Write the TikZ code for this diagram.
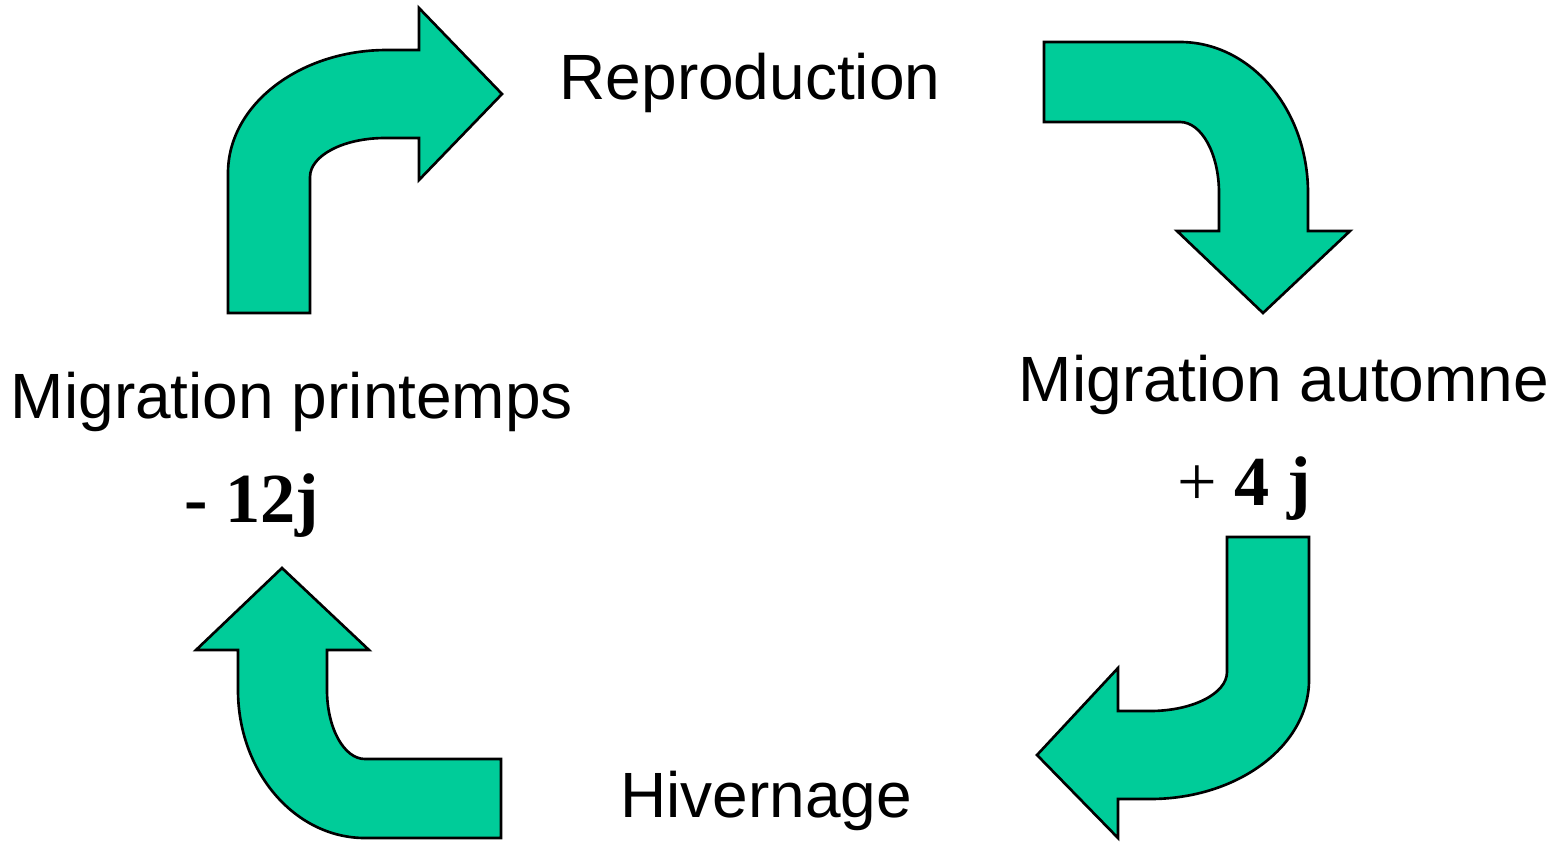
\documentclass[tikz,border=0pt]{standalone}
\usepackage{fontspec}
\setmainfont{Liberation Sans}
\newfontfamily\chiffres{Liberation Serif}
\definecolor{vertcycle}{RGB}{0,204,153}
\tikzset{
  fleche/.style={fill=vertcycle, draw=black, line width=0.75pt, line join=miter},
  etape/.style={anchor=base, inner sep=0pt, font=\fontsize{18.2}{22}\selectfont},
  duree/.style={anchor=base, inner sep=0pt, font=\chiffres\fontsize{20}{24}\selectfont}
}
\begin{document}
\begin{tikzpicture}[x=0.01cm,y=0.01cm]
\useasboundingbox (0,0) rectangle (1564,841);

% fleche printemps -> reproduction
\draw[fleche] (228,528) -- (228,668) arc[start angle=180, end angle=90, x radius=159, y radius=123]
  -- (419,791) -- (419,833) -- (502,747) -- (419,661) -- (419,703) -- (385,703)
  arc[start angle=90, end angle=180, x radius=75, y radius=39] -- (310,528) -- cycle;
% fleche reproduction -> automne
\draw[fleche] (1044,799) -- (1180,799) arc[start angle=90, end angle=0, x radius=128, y radius=151]
  -- (1308,610) -- (1350,610) -- (1263,528) -- (1177,610) -- (1219,610) -- (1219,648)
  arc[start angle=0, end angle=90, x radius=39, y radius=71] -- (1044,719) -- cycle;
% fleche automne -> hivernage
\draw[fleche] (1309,304) -- (1309,161) arc[start angle=0, end angle=-90, x radius=159, y radius=119]
  -- (1118,42) -- (1118,3) -- (1037,86) -- (1118,173) -- (1118,130) -- (1150,130)
  arc[start angle=-90, end angle=0, x radius=77, y radius=39] -- (1227,304) -- cycle;
% fleche hivernage -> printemps
\draw[fleche] (501,3) -- (365,3) arc[start angle=-90, end angle=-180, x radius=127, y radius=148]
  -- (238,191) -- (196,191) -- (282,273) -- (369,191) -- (327,191) -- (327,151)
  arc[start angle=180, end angle=270, x radius=38, y radius=69] -- (501,82) -- cycle;

\node[etape] (repro) at (750,742) {Reproduction};
\node[etape] (automne) at (1284,440) {Migration automne};
\node[duree] (plus) at (1244,336) {+ \textbf{4 j}};
\node[etape] (hiver) at (766,24) {Hivernage};
\node[etape] (printemps) at (292,423) {Migration printemps};
\node[duree] (moins) at (252,319) {\textbf{- 12j}};
\end{tikzpicture}
\end{document}
